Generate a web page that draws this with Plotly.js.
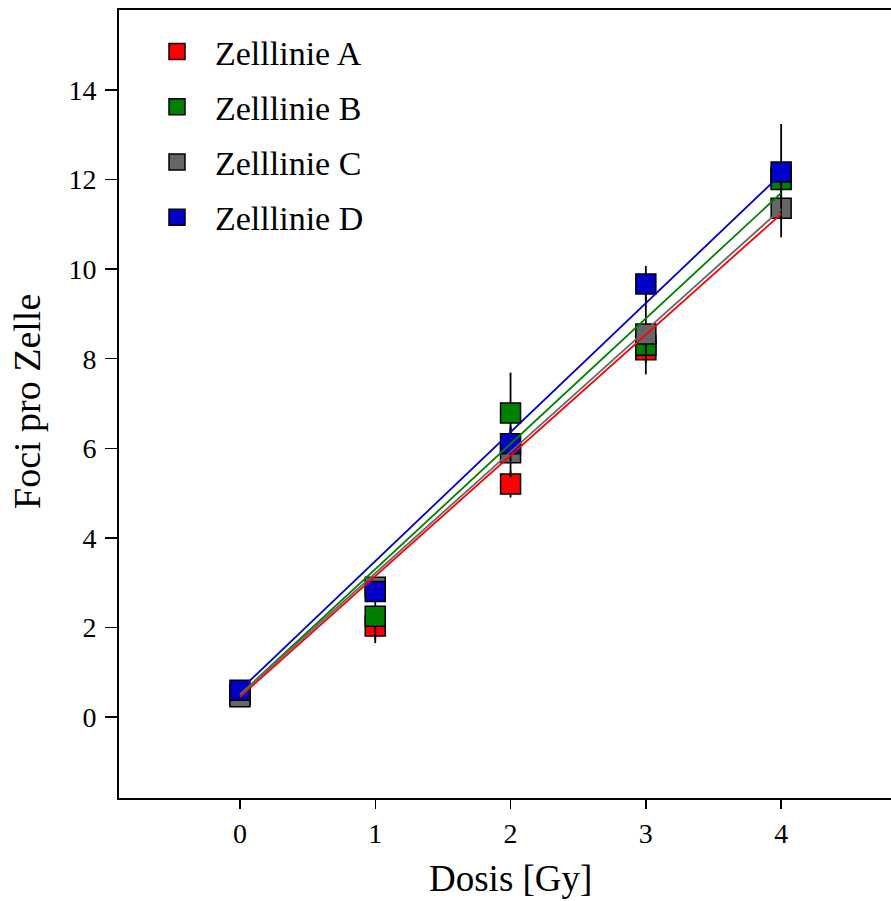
<!DOCTYPE html>
<html>
<head>
<meta charset="utf-8">
<script src="https://cdn.plot.ly/plotly-3.0.1.min.js"></script>
<style>html,body{margin:0;padding:0;background:#fff;}#chart{width:891px;height:901px;}</style>
</head>
<body>
<div id="chart"></div>
<script>
// Data
var dose = [0, 1, 2, 3, 4];
var seriesNames = ["Zelllinie A", "Zelllinie B", "Zelllinie C", "Zelllinie D"];
var seriesColors = ["#ff0000", "#008000", "#666666", "#0000c8"];
var valuesA = [0.50, 2.03, 5.20, 8.20, 12.06];
var valuesB = [0.50, 2.25, 6.79, 8.30, 12.00];
var valuesC = [0.45, 2.90, 5.90, 8.55, 11.36];
var valuesD = [0.60, 2.80, 6.10, 9.67, 12.17];
var errorsA = [0.10, 0.30, 0.30, 0.30, 0.30];
var errorsB = [0.10, 0.60, 0.90, 0.30, 0.40];
var errorsC = [0.10, 0.20, 0.55, 0.90, 0.65];
var errorsD = [0.10, 0.20, 0.40, 0.40, 1.07];
// Linear fit parameters (intercept, slope)
var fitIntercept = [0.45, 0.50, 0.50, 0.60];
var fitSlope = [2.695, 2.80, 2.71, 2.88];
var fitRange = [0, 4];
var xTicks = [0, 1, 2, 3, 4];
var yTicks = [0, 2, 4, 6, 8, 10, 12, 14];

var allValues = [valuesA, valuesB, valuesC, valuesD];
var allErrors = [errorsA, errorsB, errorsC, errorsD];

var font = "Liberation Serif, Times New Roman, serif";
var traces = [];
for (var i = 0; i < 4; i++) {
  traces.push({
    type: "scatter", mode: "markers",
    x: dose, y: allValues[i], name: seriesNames[i],
    legendgroup: "g" + i,
    marker: {symbol: "square", size: 20, color: seriesColors[i], line: {color: "#000", width: 1.5}},
    error_y: {type: "data", array: allErrors[i], visible: true, color: "#000", thickness: 1.8, width: 0}
  });
}
for (var j = 0; j < 4; j++) {
  var fx = fitRange.slice();
  var fy = fx.map(function (v) { return fitIntercept[j] + fitSlope[j] * v; });
  traces.push({
    type: "scatter", mode: "lines", x: fx, y: fy, showlegend: false, hoverinfo: "skip",
    line: {color: seriesColors[j], width: 1.8}
  });
}

var plotLeft = 119, plotWidth = 772, plotTop = 10, plotHeight = 788;
var layout = {
  width: 891, height: 901,
  margin: {l: plotLeft, r: 891 - plotLeft - plotWidth, t: plotTop, b: 901 - plotTop - plotHeight, pad: 0},
  paper_bgcolor: "#fff", plot_bgcolor: "#fff",
  font: {family: font, color: "#000", size: 28},
  showlegend: true,
  legend: {
    x: (139 - plotLeft) / plotWidth, y: 1 - (23 - plotTop) / plotHeight,
    xanchor: "left", yanchor: "top",
    font: {family: font, size: 34, color: "#000"},
    traceorder: "grouped", tracegroupgap: 8, itemwidth: 66,
    bgcolor: "rgba(0,0,0,0)", borderwidth: 0
  },
  xaxis: {
    range: [-0.894, 4.812], tickvals: xTicks, ticktext: xTicks.map(String),
    ticks: "outside", ticklen: 9, tickwidth: 1.5, tickcolor: "#000",
    showline: true, linecolor: "#000", linewidth: 2, mirror: true,
    showgrid: false, zeroline: false,
    tickfont: {family: font, size: 28, color: "#000"}
  },
  yaxis: {
    range: [-1.808, 15.785], tickvals: yTicks, ticktext: yTicks.map(String),
    ticks: "outside", ticklen: 12, tickwidth: 1.5, tickcolor: "#000",
    showline: true, linecolor: "#000", linewidth: 2, mirror: false,
    showgrid: false, zeroline: false, ticklabelstandoff: 3,
    tickfont: {family: font, size: 28, color: "#000"}
  },
  annotations: [
    {text: "Dosis [Gy]", xref: "paper", yref: "paper",
     x: (510 - plotLeft) / plotWidth, y: (798 - 879) / plotHeight,
     xanchor: "center", yanchor: "middle", showarrow: false,
     font: {family: font, size: 37, color: "#000"}},
    {text: "Foci pro Zelle", xref: "paper", yref: "paper",
     x: (27 - plotLeft) / plotWidth, y: 0.5 + (404 - 402) / plotHeight,
     xanchor: "center", yanchor: "middle", showarrow: false, textangle: -90,
     font: {family: font, size: 38, color: "#000"}}
  ]
};
Plotly.newPlot("chart", traces, layout, {displayModeBar: false, staticPlot: true});
</script>
</body>
</html>
